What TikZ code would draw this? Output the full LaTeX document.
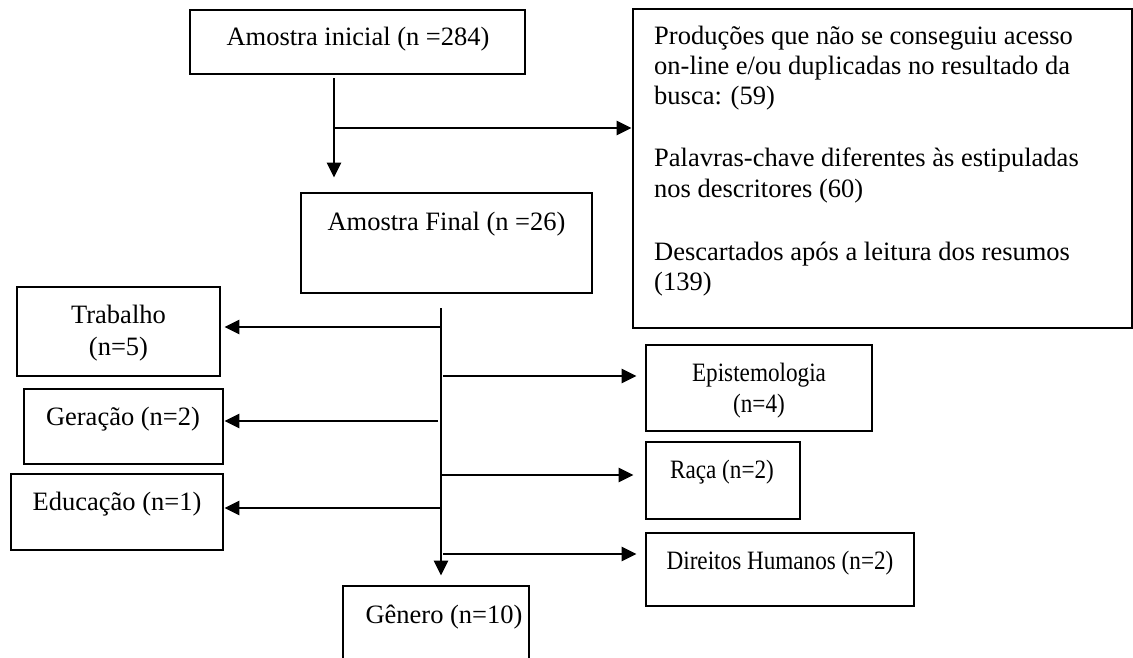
\documentclass[tikz,border=0pt]{standalone}
\usepackage{fontspec}
\setmainfont{Liberation Serif}
\usetikzlibrary{arrows.meta}
\newcommand{\narrowtxt}[1]{\scalebox{0.875}[1]{#1}}
\begin{document}
\begin{tikzpicture}[x=1pt,y=-1pt,
  box/.style={draw, line width=2.8pt, rectangle, inner sep=0pt},
  txt/.style={inner sep=0pt, font=\fontsize{26.5}{30}\selectfont},
  conn/.style={line width=2.7pt, -{Triangle[length=15pt,width=14pt]}}]
\useasboundingbox (0,0) rectangle (1133,658);
\clip (0,0) rectangle (1133,658);
% boxes
\node[box, minimum width=335pt, minimum height=64pt] (ini) at (357.5,42) {};
\node[box, minimum width=291pt, minimum height=100pt] (fin) at (446.5,243) {};
\node[box, minimum width=499pt, minimum height=319pt] (excl) at (882.5,168.5) {};
\node[box, minimum width=203pt, minimum height=89pt] (trab) at (118.5,331.5) {};
\node[box, minimum width=199pt, minimum height=75pt] (ger) at (123.5,426.5) {};
\node[box, minimum width=212pt, minimum height=76pt] (edu) at (117,512) {};
\node[box, minimum width=226pt, minimum height=86pt] (epi) at (759,388) {};
\node[box, minimum width=154pt, minimum height=77pt] (raca) at (723,480.5) {};
\node[box, minimum width=268pt, minimum height=73pt] (dir) at (780,569.5) {};
\node[box, minimum width=186pt, minimum height=100pt] (gen) at (436,636) {};
% texts
\node[txt, anchor=base] (tini) at (358,46) {Amostra inicial (n =284)};
\node[txt, anchor=base] (tfin) at (446.5,230) {Amostra Final (n =26)};
\node[txt, anchor=base west] (e1) at (654,45) {Produções que não se conseguiu acesso};
\node[txt, anchor=base west] (e2) at (654,75) {on-line e/ou duplicadas no resultado da};
\node[txt, anchor=base west] (e3) at (654,105) {busca: (59)};
\node[txt, anchor=base west] (e4) at (654,167) {Palavras-chave diferentes às estipuladas};
\node[txt, anchor=base west] (e5) at (654,197) {nos descritores (60)};
\node[txt, anchor=base west] (e6) at (654,260) {Descartados após a leitura dos resumos};
\node[txt, anchor=base west] (e7) at (654,290) {(139)};
\node[txt, anchor=base] (ttrab1) at (118.5,323) {Trabalho};
\node[txt, anchor=base] (ttrab2) at (118.5,355) {(n=5)};
\node[txt, anchor=base] (tger) at (123,425) {Geração (n=2)};
\node[txt, anchor=base] (tedu) at (117,510) {Educação (n=1)};
\node[txt, anchor=base] (tepi1) at (759,381) {\narrowtxt{Epistemologia}};
\node[txt, anchor=base] (tepi2) at (759,412) {\narrowtxt{(n=4)}};
\node[txt, anchor=base] (traca) at (722,478) {\narrowtxt{Raça (n=2)}};
\node[txt, anchor=base] (tdir) at (780,569) {\narrowtxt{Direitos Humanos (n=2)}};
\node[txt, anchor=base] (tgen) at (444,623) {Gênero (n=10)};
% junction coordinates
\coordinate (j1) at (334,128);
\coordinate (v) at (441,327);
\coordinate (vg) at (438,421);
\coordinate (ve) at (441,508);
\coordinate (vp) at (443,376);
\coordinate (vr) at (441,475);
\coordinate (vd) at (443,554);
% connectors
\draw[conn, shorten <=3pt, shorten >=14pt] (ini.south -| j1) -- (fin.north -| j1);
\draw[conn] (j1) -- (j1 -| excl.west);
\draw[conn, shorten <=14pt, shorten >=9pt] (fin.south -| v) -- (gen.north -| v);
\draw[conn, shorten >=3pt] (v) -- (v -| trab.east);
\draw[conn] (vg) -- (vg -| ger.east);
\draw[conn] (ve) -- (ve -| edu.east);
\draw[conn, shorten >=8pt] (vp) -- (vp -| epi.west);
\draw[conn, shorten >=11pt] (vr) -- (vr -| raca.west);
\draw[conn, shorten >=8pt] (vd) -- (vd -| dir.west);
\end{tikzpicture}
\end{document}
